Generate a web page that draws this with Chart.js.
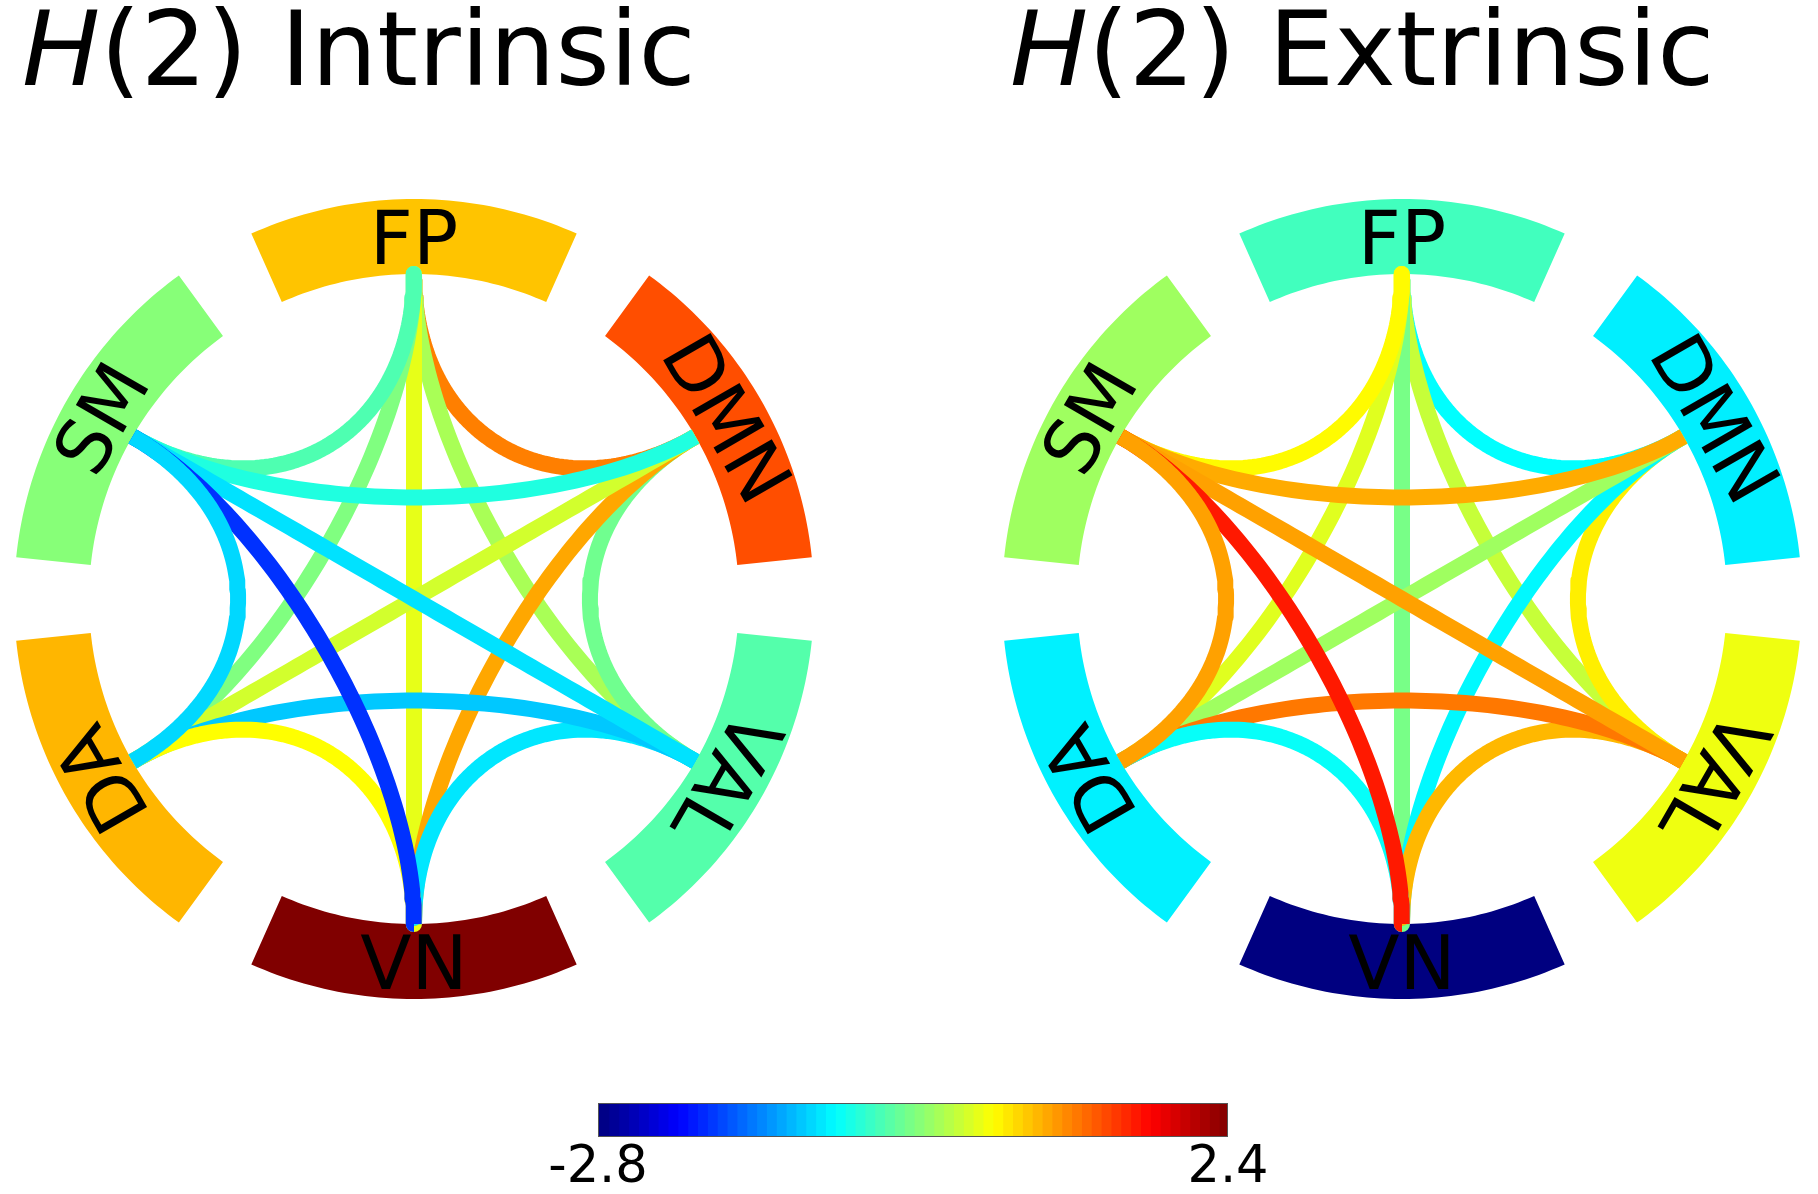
<!DOCTYPE html>
<html>
<head>
<meta charset="utf-8">
<title>H(2) Intrinsic / Extrinsic</title>
<script src="https://cdn.jsdelivr.net/npm/chart.js@4.4.0/dist/chart.umd.min.js"></script>
<style>
    html, body { margin: 0; padding: 0; background: #fff; overflow: hidden; }
    #wrap { position: relative; width: 1818px; height: 1194px; }
    #circles { position: absolute; left: 0; top: 0; }
    #colorbar { position: absolute; left: 548px; top: 1095px; }
</style>
</head>
<body>
<div id="wrap">
    <canvas id="circles" width="1818" height="1194"></canvas>
    <canvas id="colorbar" width="730" height="99"></canvas>
</div>
<script>
// Networks, clockwise from the top of each circle
const networks = ["FP", "DMN", "VAL", "VN", "DA", "SM"];

// Node values (colour of the outer bands)
const intrinsicNodes = [0.75, 1.35, -0.42, 2.4, 0.82, -0.16];
const extrinsicNodes = [-0.52, -0.93, 0.37, -2.8, -0.92, -0.04];

// Connections between networks and their values
const links = [
    ["FP", "DMN"], ["FP", "VAL"], ["FP", "VN"], ["FP", "DA"], ["FP", "SM"],
    ["DMN", "VAL"], ["DMN", "VN"], ["DMN", "DA"], ["DMN", "SM"],
    ["VAL", "VN"], ["VAL", "DA"], ["VAL", "SM"],
    ["VN", "DA"], ["VN", "SM"],
    ["DA", "SM"],
];
const intrinsicLinks = [1.1, 0.01, 0.33, -0.2, -0.45, -0.28, 0.9, 0.22, -0.69, -0.97, -1.13, -1.0, 0.45, -1.9, -1.05];
const extrinsicLinks = [-0.85, 0.16, -0.24, 0.29, 0.47, 0.53, -0.88, -0.04, 0.88, 0.81, 1.14, 0.93, -0.82, 1.62, 0.93];

// Colour scale
const colorLimits = [-2.8, 2.4];
const colorbarTicks = [-2.8, 2.4];

// ---- layout (data units: inner circle radius = 1) ----
const PX = 325;                 // pixels per unit
const LEFT_CX = 414, RIGHT_CX = 1402, CY = 599;
const R_IN = 1, R_OUT = 400 / PX, R_LABEL = 362.5 / PX;
const HALF_SPAN = 24;           // degrees each band covers either side of its node
const PULL = 0.5;               // bezier control points sit halfway to the centre
const DEG = Math.PI / 180;

const panels = [
    { title: "Intrinsic", cx: 0, titleX: 22, nodes: intrinsicNodes, links: intrinsicLinks },
    { title: "Extrinsic", cx: (RIGHT_CX - LEFT_CX) / PX, titleX: 1010, nodes: extrinsicNodes, links: extrinsicLinks },
];

function jet(t) {
    t = Math.min(1, Math.max(0, t));
    const c = v => Math.round(255 * Math.min(1, Math.max(0, v)));
    return "rgb(" + c(1.5 - Math.abs(4 * t - 3)) + "," + c(1.5 - Math.abs(4 * t - 2)) + "," + c(1.5 - Math.abs(4 * t - 1)) + ")";
}
function jetColor(v) {
    return jet((v - colorLimits[0]) / (colorLimits[1] - colorLimits[0]));
}

function angleOf(name) {
    return 90 - 60 * networks.indexOf(name);
}

// Cubic bezier between two nodes, pulled towards the circle centre
function chordPoints(cx, a1, a2) {
    const u1 = [Math.cos(a1 * DEG), Math.sin(a1 * DEG)];
    const u2 = [Math.cos(a2 * DEG), Math.sin(a2 * DEG)];
    const pts = [];
    const n = 80;
    for (let i = 0; i <= n; i++) {
        const t = i / n, s = 1 - t;
        const w0 = s * s * s + 3 * s * s * t * PULL;
        const w1 = t * t * t + 3 * s * t * t * PULL;
        pts.push({ x: cx + w0 * u1[0] + w1 * u2[0], y: w0 * u1[1] + w1 * u2[1] });
    }
    return pts;
}

// Chords as line datasets
const datasets = [];
panels.forEach(p => {
    p.links.forEach((v, k) => {
        const [a, b] = links[k];
        datasets.push({
            data: chordPoints(p.cx, angleOf(a), angleOf(b)),
            showLine: true,
            borderColor: jetColor(v),
            borderWidth: 16,
            borderCapStyle: "butt",
            borderJoinStyle: "round",
            pointRadius: 0,
            tension: 0,
            fill: false,
            order: links.length - k,
        });
    });
});

const circlePlugin = {
    id: "circleDecor",
    beforeDatasetsDraw(chart) {
        const ctx = chart.ctx, xs = chart.scales.x, ys = chart.scales.y;
        panels.forEach(p => {
            p.nodes.forEach((v, i) => {
                const a = angleOf(networks[i]);
                ctx.beginPath();
                for (let t = -HALF_SPAN; t <= HALF_SPAN; t += 1) {
                    const ang = (a + t) * DEG;
                    ctx.lineTo(xs.getPixelForValue(p.cx + R_OUT * Math.cos(ang)), ys.getPixelForValue(R_OUT * Math.sin(ang)));
                }
                for (let t = HALF_SPAN; t >= -HALF_SPAN; t -= 1) {
                    const ang = (a + t) * DEG;
                    ctx.lineTo(xs.getPixelForValue(p.cx + R_IN * Math.cos(ang)), ys.getPixelForValue(R_IN * Math.sin(ang)));
                }
                ctx.closePath();
                ctx.fillStyle = jetColor(v);
                ctx.fill();
            });
        });
    },
    afterDatasetsDraw(chart) {
        const ctx = chart.ctx, xs = chart.scales.x, ys = chart.scales.y;
        ctx.save();
        ctx.fillStyle = "#000";
        ctx.textAlign = "center";
        ctx.textBaseline = "alphabetic";
        ctx.font = '75px "DejaVu Sans"';
        panels.forEach(p => {
            networks.forEach(name => {
                const a = angleOf(name);
                const px = xs.getPixelForValue(p.cx + R_LABEL * Math.cos(a * DEG));
                const py = ys.getPixelForValue(R_LABEL * Math.sin(a * DEG));
                let rot = (90 - a) * DEG;
                if (a === -90) rot = 0;
                ctx.save();
                ctx.translate(px, py);
                ctx.rotate(rot);
                ctx.fillText(name, 0, 0.3645 * 75);
                ctx.restore();
            });
        });
        // titles
        ctx.textAlign = "left";
        panels.forEach(p => {
            ctx.font = 'italic 104px "DejaVu Sans"';
            ctx.fillText("H", p.titleX, 85);
            const w = ctx.measureText("H").width;
            ctx.font = '104px "DejaVu Sans"';
            ctx.fillText("(2) " + p.title, p.titleX + w, 85);
        });
        ctx.restore();
    },
};

new Chart(document.getElementById("circles"), {
    type: "scatter",
    data: { datasets: datasets },
    options: {
        responsive: false,
        animation: false,
        events: [],
        layout: { padding: 0 },
        scales: {
            x: { type: "linear", display: false, min: -LEFT_CX / PX, max: (1818 - LEFT_CX) / PX },
            y: { type: "linear", display: false, min: -(1194 - CY) / PX, max: CY / PX },
        },
        plugins: { legend: { display: false }, tooltip: { enabled: false } },
    },
    plugins: [circlePlugin],
});

// ---- colour bar ----
const steps = 64;
const cbDatasets = [];
for (let k = 0; k < steps; k++) {
    const span = colorLimits[1] - colorLimits[0];
    const lo = colorLimits[0] + span * k / steps;
    const hi = colorLimits[0] + span * (k + 1) / steps;
    cbDatasets.push({
        data: [[lo, Math.min(colorLimits[1], hi + span * 0.002)]],
        backgroundColor: jet((k + 0.5) / steps),
        borderWidth: 0,
        grouped: false,
        barPercentage: 1,
        categoryPercentage: 1,
    });
}

const colorbarPlugin = {
    id: "colorbarDecor",
    afterDatasetsDraw(chart) {
        const ctx = chart.ctx, area = chart.chartArea, xs = chart.scales.x;
        ctx.save();
        ctx.strokeStyle = "#555";
        ctx.lineWidth = 1;
        ctx.strokeRect(Math.round(area.left) + 0.5, Math.round(area.top) + 0.5,
            Math.round(area.right - area.left) - 1, Math.round(area.bottom - area.top) - 1);
        ctx.fillStyle = "#000";
        ctx.font = '51px "DejaVu Sans"';
        ctx.textAlign = "center";
        ctx.textBaseline = "alphabetic";
        colorbarTicks.forEach(v => {
            ctx.fillText(v.toFixed(1), xs.getPixelForValue(v), 87);
        });
        ctx.restore();
    },
};

new Chart(document.getElementById("colorbar"), {
    type: "bar",
    data: { labels: ["H(2)"], datasets: cbDatasets },
    options: {
        indexAxis: "y",
        responsive: false,
        animation: false,
        events: [],
        layout: { padding: { left: 50, right: 50, top: 8, bottom: 57 } },
        scales: {
            x: { type: "linear", display: false, min: colorLimits[0], max: colorLimits[1] },
            y: { display: false },
        },
        plugins: { legend: { display: false }, tooltip: { enabled: false } },
    },
    plugins: [colorbarPlugin],
});
</script>
</body>
</html>
